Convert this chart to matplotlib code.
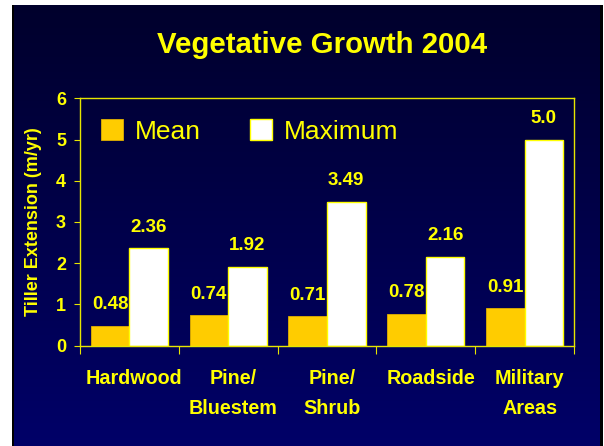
import numpy as np
import matplotlib
matplotlib.use("Agg")
import matplotlib.pyplot as plt
from matplotlib.patches import Rectangle
from matplotlib.colors import LinearSegmentedColormap
from matplotlib.transforms import ScaledTranslation, blended_transform_factory

plt.rcParams['font.family'] = ['Liberation Sans', 'DejaVu Sans']

categories = ["Hardwood", "Pine/\nBluestem", "Pine/\nShrub", "Roadside", "Military\nAreas"]
mean_vals = [0.48, 0.74, 0.71, 0.78, 0.91]
max_vals = [2.36, 1.92, 3.49, 2.16, 5.0]
mean_labels = ["0.48", "0.74", "0.71", "0.78", "0.91"]
max_labels = ["2.36", "1.92", "3.49", "2.16", "5.0"]
yticks = [0, 1, 2, 3, 4, 5, 6]

YEL = '#FFFF00'
GOLD = '#FFCC00'

W, H = 604, 446
fig = plt.figure(figsize=(W/100, H/100), dpi=100, facecolor='white')

# slide frame (black) and gradient background
frame = fig.add_axes([12/W, 0, (603-12)/W, (H-5)/H], zorder=-2)
frame.set_axis_off()
frame.add_patch(Rectangle((0, 0), 1, 1, transform=frame.transAxes, facecolor='black',
                          edgecolor='none'))
bg = fig.add_axes([14/W, 0, (600-14)/W, (H-5)/H], zorder=-1)
cmap = LinearSegmentedColormap.from_list('g', ['#00002C', '#000068'])
grad = np.linspace(0, 1, 256).reshape(-1, 1)
bg.imshow(grad, aspect='auto', cmap=cmap, extent=[0, 1, 0, 1], origin='upper')
bg.set_axis_off()

ax = fig.add_axes([80/W, 100.3/H, 494/W, 247.4/H], zorder=1)
ax.set_facecolor('none')
x = np.arange(len(categories))
bw = 0.39
ax.bar(x - bw/2, mean_vals, bw, color=GOLD, edgecolor='#E0B000', linewidth=0.6,
       label='Mean', zorder=2)
ax.bar(x + bw/2, max_vals, bw, color='white', edgecolor=YEL, linewidth=1.0,
       label='Maximum', zorder=2)

for xi, v, s in zip(x - bw/2, mean_vals, mean_labels):
    ax.annotate(s, (xi, v), xytext=(0, 9), textcoords='offset points', ha='center',
                va='bottom', color=YEL, fontsize=13.5, fontweight='bold', zorder=4)
for xi, v, s in zip(x + bw/2, max_vals, max_labels):
    ax.annotate(s, (xi, v), xytext=(0, 9), textcoords='offset points', ha='center',
                va='bottom', color=YEL, fontsize=13.5, fontweight='bold', zorder=4)

ax.set_xlim(-0.5, len(categories) - 0.5)
ax.set_ylim(0, 6)
ax.set_yticks(yticks)
ax.set_yticklabels([str(t) for t in yticks], color=YEL, fontsize=13, fontweight='bold')
ax.set_xticks(np.arange(len(categories) + 1) - 0.5)
ax.set_xticklabels([])

# category labels (slightly right of centre, as in the original)
tr = blended_transform_factory(ax.transData, ax.transAxes) + \
    ScaledTranslation(5/100, -23/100, fig.dpi_scale_trans)
for xi, c in zip(x, categories):
    ax.text(xi, 0, c, transform=tr, ha='center', va='top', color=YEL, fontsize=14.2,
            fontweight='bold', linespacing=1.75, multialignment='center')

ax.tick_params(axis='x', which='major', length=6, color='#E6E600', direction='out')
ax.tick_params(axis='y', length=4, color='#E6E600', direction='out', pad=6)
for sp in ax.spines.values():
    sp.set_color('#E6E600')
    sp.set_linewidth(1)

ax.set_ylabel("Tiller Extension (m/yr)", color=YEL, fontsize=13, fontweight='bold',
              labelpad=10)

leg = ax.legend(loc='upper left', bbox_to_anchor=(0.01, 0.98), ncol=2, frameon=False,
                fontsize=19, handlelength=0.85, handleheight=0.85, handletextpad=0.45,
                columnspacing=1.85, borderaxespad=0.2)
for t in leg.get_texts():
    t.set_color(YEL)

fig.text(322/W, 1 - 53.3/H, "Vegetative Growth 2004", color=YEL, fontsize=21.2,
         fontweight='bold', ha='center', va='baseline')

fig.savefig('out.png', dpi=100, facecolor='white')
